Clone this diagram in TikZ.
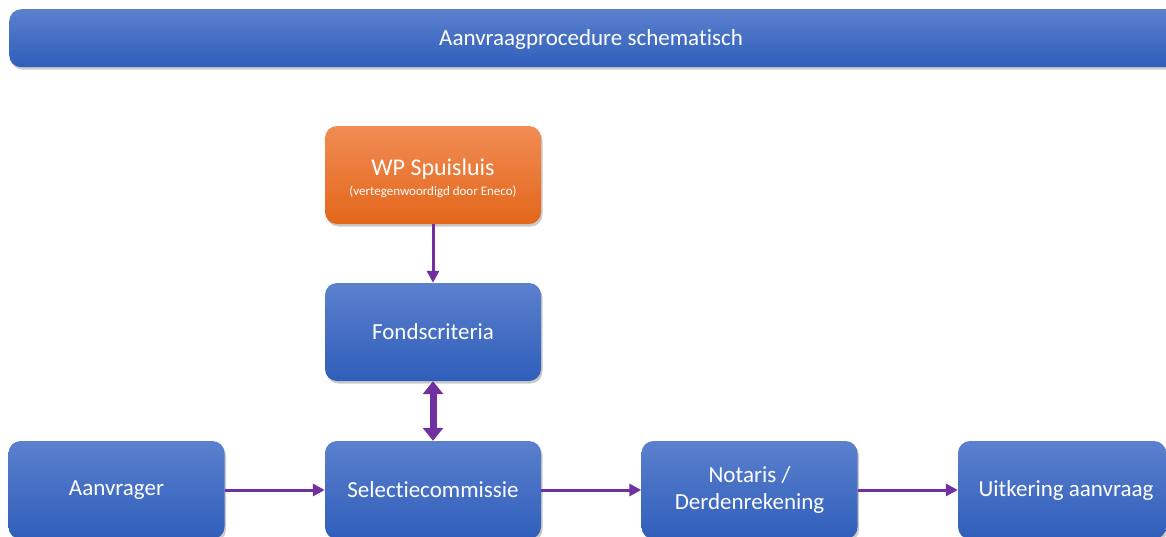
\documentclass[tikz,border=0pt]{standalone}
\usepackage{fontspec}
\setmainfont{Carlito}[Ligatures=NoCommon]
\usetikzlibrary{shadows,arrows.meta}
\definecolor{bluetop}{HTML}{5B80CE}
\definecolor{bluebot}{HTML}{2F5EBA}
\definecolor{orangetop}{HTML}{F18C55}
\definecolor{orangebot}{HTML}{E3661A}
\definecolor{arrowpurple}{HTML}{7030A0}
\tikzset{
  box/.style={rounded corners=12pt, minimum width=216pt, minimum height=98pt,
    top color=bluetop, bottom color=bluebot, text=white, font=\fontsize{23}{27}\selectfont,
    align=center, inner sep=0pt,
    drop shadow={opacity=0.35, shadow xshift=1.5pt, shadow yshift=-2.5pt, fill=black!60}},
  orangebox/.style={box, top color=orangetop, bottom color=orangebot},
  conn/.style={draw=arrowpurple, line width=3pt, -{Triangle[length=12pt,width=12pt]}},
  dconn/.style={draw=arrowpurple, line width=7pt, {Triangle[length=13pt,width=20pt]}-{Triangle[length=13pt,width=20pt]}}
}
\begin{document}
\begin{tikzpicture}[x=1pt,y=-1pt]
\useasboundingbox (0,0) rectangle (1166,536);
\clip (0,0) rectangle (1166,536);
\node[box, minimum width=1170pt, minimum height=58pt, anchor=north west] (title) at (9,9) {};
\node[text=white, font=\fontsize{23}{27}\selectfont] (titletext) at (591,39) {Aanvraagprocedure schematisch};
\node[orangebox] (wp) at (433,175) {\rule{0pt}{23pt}\fontsize{24}{26}\selectfont WP Spuisluis\\[-7pt]\fontsize{13}{15}\selectfont (vertegenwoordigd door Eneco)};
\node[box] (fond) at (433,332) {Fondscriteria};
\node[box] (aan) at (116.5,490) {Aanvrager};
\node[box] (sel) at (433,490) {Selectiecommissie};
\node[box] (not) at (749.5,490) {Notaris /\\Derdenrekening};
\node[box, minimum width=208pt] (uit) at (1062,490) {\hspace*{8pt}Uitkering aanvraag};
\draw[conn] (wp) -- (fond);
\draw[dconn] (fond) -- (sel);
\draw[conn] (aan) -- (sel);
\draw[conn] (sel) -- (not);
\draw[conn] (not) -- (uit);
\end{tikzpicture}
\end{document}
